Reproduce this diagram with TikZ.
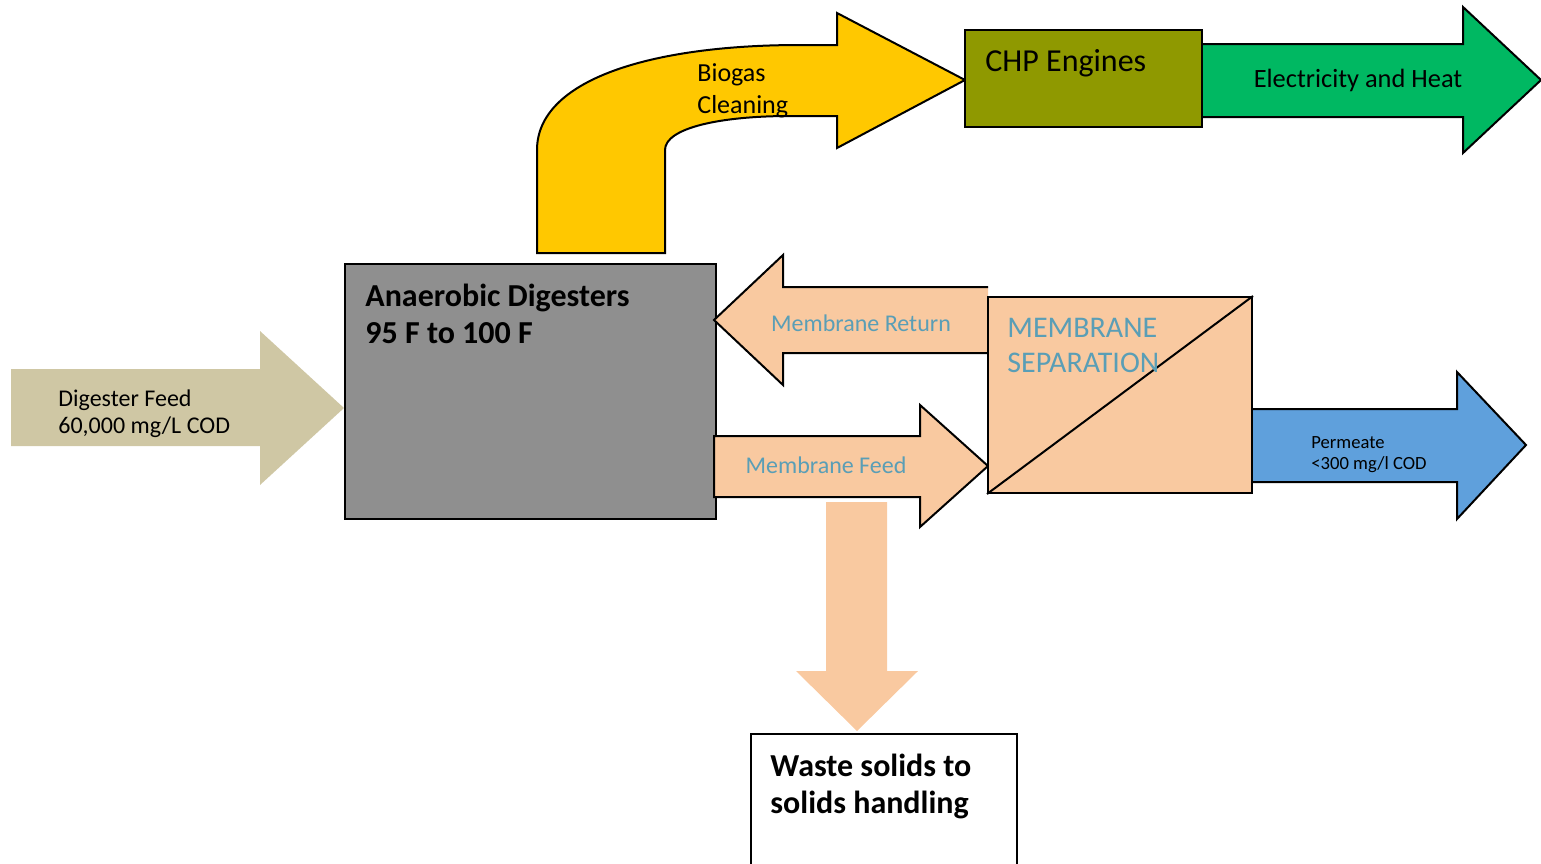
\documentclass[tikz,border=0pt]{standalone}
\usepackage{fontspec}
\setmainfont{Carlito}
\definecolor{feedtan}{HTML}{CFC7A4}
\definecolor{diggray}{HTML}{8F8F8F}
\definecolor{gasgold}{HTML}{FFC800}
\definecolor{chpolive}{HTML}{8F9900}
\definecolor{powergreen}{HTML}{00B862}
\definecolor{peach}{HTML}{F9C9A0}
\definecolor{permblue}{HTML}{5FA0DC}
\definecolor{memteal}{HTML}{5A9EB6}
\tikzset{
  procbox/.style={draw=black, line width=1pt, inner sep=0pt},
  blockarrow/.style={draw=black, line width=1pt, line join=miter},
  lbl/.style={anchor=west, align=left, inner sep=0pt},
  memlbl/.style={text=memteal, inner sep=0pt},
}

\begin{document}
\begin{tikzpicture}[x=0.5pt, y=-0.5pt]
            \useasboundingbox (0,0) rectangle (1541,863);

            \fill[feedtan] (11,369) -- (260,369) -- (260,331) -- (344,408) -- (260,485) -- (260,446) -- (11,446) -- cycle;
            \node[lbl, font=\fontsize{12}{13.5}\selectfont] (feedtxt) at (58,414) {Digester Feed\\60,000 mg/L COD};

            \node[procbox, fill=diggray, minimum width=185.5pt, minimum height=127.5pt] (dig) at (530.5,391.5) {};
            \node[lbl, font=\fontsize{16}{18.5}\selectfont\bfseries] (digtxt) at (365,314) {Anaerobic Digesters\\95 F to 100 F};

            \draw[blockarrow, fill=gasgold] (537,253) -- (537,150) .. controls (537,80) and (650,45) .. (800,45) -- (837,45) -- (837,13) -- (965,80) -- (837,148) -- (837,116) -- (790,116) .. controls (720,116) and (665,128) .. (665,150) -- (665,253) -- cycle;
            \node[lbl, font=\fontsize{13}{16}\selectfont] (gastxt) at (697,91) {Biogas\\Cleaning};

            \node[procbox, fill=chpolive, minimum width=118.5pt, minimum height=48.5pt] (chp) at (1083.5,78.5) {};
            \node[lbl, font=\fontsize{16}{18}\selectfont] (chptxt) at (985,63) {CHP Engines};

            \draw[blockarrow, fill=powergreen] (chp.east |- 0,44) -- (1463,44) -- (1463,7) -- (1541,80) -- (1463,153) -- (1463,117) -- (chp.east |- 0,117);
            \node[inner sep=0pt, font=\fontsize{13.2}{15}\selectfont] (powertxt) at (1358,80) {Electricity and Heat};

            \draw[blockarrow, fill=peach] (988,287) -- (783,287) -- (783,255) -- (714,320) -- (783,385) -- (783,353) -- (988,353);
            \node[memlbl, font=\fontsize{12}{14}\selectfont] (returntxt) at (861,323) {Membrane Return};

            \draw[blockarrow, fill=peach] (714,436) -- (920,436) -- (920,405) -- (988,466) -- (920,527) -- (920,497) -- (714,497) -- cycle;
            \node[memlbl, font=\fontsize{12}{14}\selectfont] (feedmemtxt) at (826,465) {Membrane Feed};

            \node[procbox, fill=peach, minimum width=132pt, minimum height=98pt] (mem) at (1120,395) {};
            \draw[line width=1pt] (mem.south west) -- (mem.north east);
            \node[memlbl, lbl, font=\fontsize{15}{17.5}\selectfont] (memtxt) at (1007,345) {MEMBRANE\\SEPARATION};

            \draw[blockarrow, fill=permblue] (mem.east |- 0,409) -- (1457,409) -- (1457,372) -- (1526,445) -- (1457,519) -- (1457,482) -- (mem.east |- 0,482);
            \node[lbl, font=\fontsize{9.3}{10.5}\selectfont] (permtxt) at (1311,455) {Permeate\\<300 mg/l COD};

            \fill[peach] (826,502) -- (887,502) -- (887,671) -- (918,671) -- (857,731) -- (796,671) -- (826,671) -- cycle;

            \node[procbox, fill=white, minimum width=133pt, minimum height=66pt] (waste) at (884,800) {};
            \node[lbl, font=\fontsize{16}{18.5}\selectfont\bfseries] (wastetxt) at (770,786) {Waste solids to\\solids handling};
\end{tikzpicture}
\end{document}
